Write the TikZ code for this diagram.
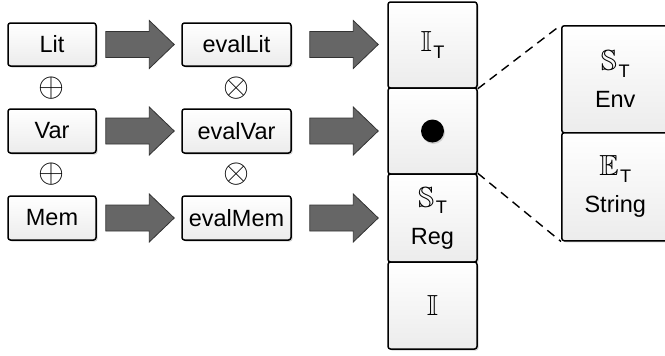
\documentclass[tikz,border=0pt]{standalone}
\usepackage{amssymb}
\usepackage{graphicx}
\usepackage{fontspec}
\setmainfont{Liberation Sans}
\setsansfont{Liberation Sans}
\usetikzlibrary{calc,shadows}
\tikzset{
  cellbox/.style={draw=black, line width=1.5pt, rounded corners=2.5pt,
    top color=white, bottom color=gray!15, inner sep=0pt,
    drop shadow={shadow xshift=1.5pt, shadow yshift=-1.5pt, opacity=.35, fill=gray},
    font=\fontsize{23.5}{28}\selectfont, align=center},
  fatarr/.style={draw=black!80, line width=0.8pt, fill=black!60, line join=miter},
  zoomline/.style={line width=1.4pt, dash pattern=on 9pt off 6pt},
  opsym/.style={inner sep=0pt}
}
\newcommand\bbsym[1]{\resizebox{!}{20pt}{$\mathbb{#1}$}}
\newcommand\bbT[1]{\bbsym{#1}\kern1.5pt\raisebox{-6.5pt}{\resizebox{!}{12.5pt}{T}}}
\newcommand\bigop[1]{\resizebox{26pt}{!}{$#1$}}
\newcommand\fatarrowAB[4]{% from, to, gapstart, gapend
  \path[fatarr] let \p1=($(#1.east)+(#3,0)$), \p2=($(#2.west)-(#4,0)$) in
    (\x1,\y1+13pt) -- (\x2-25pt,\y1+13pt) -- (\x2-25pt,\y1+24pt) -- (\x2,\y1)
    -- (\x2-25pt,\y1-24pt) -- (\x2-25pt,\y1-13pt) -- (\x1,\y1-13pt) -- cycle;}
\begin{document}
\begin{tikzpicture}[x=1pt,y=-1pt]
\useasboundingbox (0,0) rectangle (665,356);
% left column
\node[cellbox, minimum width=88pt, minimum height=43pt] (lit) at (52,44.5) {Lit};
\node[cellbox, minimum width=88pt, minimum height=44pt] (var) at (52,131) {Var};
\node[cellbox, minimum width=88pt, minimum height=44pt] (mem) at (52,218) {Mem};
% eval column
\node[cellbox, minimum width=109pt, minimum height=43pt] (elit) at (236.5,44.5) {evalLit};
\node[cellbox, minimum width=109pt, minimum height=44pt] (evar) at (236.5,131) {evalVar};
\node[cellbox, minimum width=109pt, minimum height=44pt] (emem) at (236.5,218) {evalMem};
% operators
\node[opsym] (p1) at (52,88) {\bigop{\oplus}};
\node[opsym] (p2) at (52,174) {\bigop{\oplus}};
\node[opsym] (t1) at (236.5,88) {\bigop{\otimes}};
\node[opsym] (t2) at (236.5,174) {\bigop{\otimes}};
% stack
\node[cellbox, minimum width=89pt, minimum height=86pt] (c1) at (432.5,45) {\bbT{I}};
\node[cellbox, minimum width=89pt, minimum height=86pt] (c2) at (432.5,131) {};
\node[circle, fill=black, minimum size=23pt, inner sep=0pt,
  drop shadow={shadow xshift=1pt, shadow yshift=-1.5pt, opacity=.3, fill=gray}] (dot) at (c2.center) {};
\node[cellbox, minimum width=89pt, minimum height=88pt] (c3) at (432.5,218) {\bbT{S}\\[9pt]Reg};
\node[cellbox, minimum width=89pt, minimum height=87pt] (c4) at (432.5,305.5) {\bbsym{I}};
% right expansion
\node[cellbox, minimum width=107pt, minimum height=107pt, anchor=north west] (r1) at (561,25) {\bbT{S}\\[9pt]Env};
\node[cellbox, minimum width=107pt, minimum height=108pt, anchor=north west] (r2) at (561,132) {\bbT{E}\\[9pt]String};
% dashed zoom lines
\draw[zoomline] (c1.south east) -- (r1.north west);
\draw[zoomline] (c3.north east) -- (r2.south west);
% arrows
\fatarrowAB{lit}{elit}{9pt}{7pt}
\fatarrowAB{var}{evar}{9pt}{7pt}
\fatarrowAB{mem}{emem}{9pt}{7pt}
\fatarrowAB{elit}{c1}{18pt}{9pt}
\fatarrowAB{evar}{c2}{18pt}{9pt}
\fatarrowAB{emem}{c3}{18pt}{9pt}
\end{tikzpicture}
\end{document}
